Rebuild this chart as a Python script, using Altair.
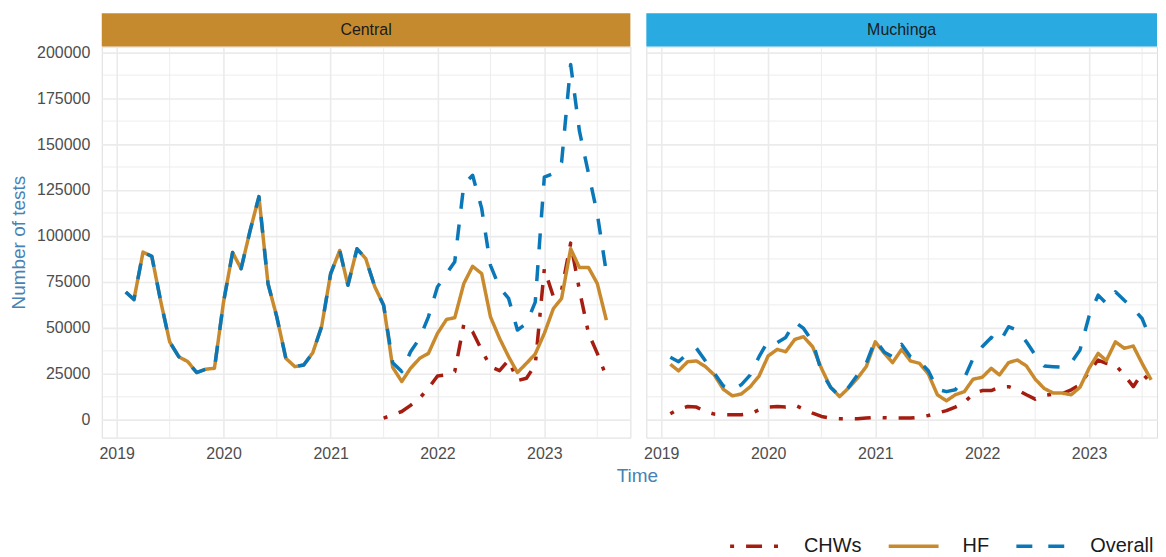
import altair as alt
import pandas as pd

# ---------------- data ----------------
start_month = "2019-02-01"
n_months = 55
months = pd.date_range(start_month, periods=n_months, freq="MS").strftime("%Y-%m-%dT00:00:00").tolist()

series_names = ["CHWs", "HF", "Overall"]

central_hf = [69.5, 65.4, 91.2, 88.9, 64, 42.4, 34.3, 31.6, 25.7, 27.5,
              28, 64, 91, 82.2, 103, 121.4, 74, 56, 33.4, 28.9,
              29.8, 36.5, 50.6, 79.5, 92.1, 73.2, 93, 87.6, 72.3, 62.3,
              28.5, 20.8, 28, 33.4, 36.1, 47, 54.6, 55.5, 74.1, 83.5,
              79.5, 56, 44.3, 34.3, 25.7, 30.7, 35.8, 47, 60.5, 66,
              93, 82.8, 82.8, 74.1, 54.2]
central_overall = [69.5, 65.4, 91.2, 88.9, 64, 42.4, 34.3, 31.6, 25.7, 27.5,
                   28, 64, 91, 82.2, 103, 121.4, 74, 56, 33.4, 28.9,
                   29.8, 36.5, 50.6, 79.5, 92.1, 73.2, 93, 87.6, 72.3, 62.3,
                   31, 26.2, 37, 44.3, 56, 72.3, 79.5, 86, 128, 133,
                   115, 84, 72, 66, 48.8, 52.4, 64, 132, 134, 140,
                   193.3, 157, 134, 112, 80]
central_chw_start = 29  # CHW reporting starts Jul 2021
central_chw = [0.9, 2.7, 4.5, 7.8, 11.7, 17.2, 23.8, 24.4, 26.2, 52,
               47.9, 37.9, 28.9, 26.7, 32.5, 21.3, 22.6, 29.8, 82, 67,
               70.5, 96.1, 70.5, 47, 36.1, 23.5]

muchinga_hf = [30.2, 26.6, 31.6, 32, 28.9, 24.4, 16.6, 13, 14, 18,
               23.8, 34.7, 38.3, 37, 43.7, 45.2, 39.7, 28, 17.7, 12.6,
               17.2, 22.6, 28.9, 42.4, 36.1, 31.1, 38.3, 32, 30.7, 24.9,
               13.6, 10.3, 13.6, 15.3, 22.1, 23.1, 28, 24.4, 31.1, 32.5,
               29.3, 22.1, 17, 14.5, 14.5, 13.6, 17.7, 28, 36.1, 32.2,
               42.4, 38.9, 40.1, 30.7, 21.7]
muchinga_overall = [34, 31.6, 36.1, 38.9, 32, 25.3, 18.4, 16.3, 19, 24.4,
                    34.3, 43, 42, 44.8, 53.3, 49.7, 42.4, 26.2, 17.7, 13,
                    17.5, 24.4, 30.7, 43.4, 36.7, 34.3, 41, 34.3, 31.6, 26.7,
                    16.6, 15.3, 16.3, 22.6, 33.4, 39.7, 44.8, 41.9, 50.6, 48.8,
                    42.4, 35.2, 29.3, 28.9, 28.6, 31, 38, 56.4, 67.8, 63.3,
                    69.6, 65, 60.5, 55.1, 43]
muchinga_chw = [3.3, 5.8, 7.2, 6.9, 4.5, 3.1, 2.7, 2.7, 2.7, 3.3,
                5.4, 6.9, 7.2, 6.9, 8, 5.8, 3.6, 1.8, 0.9, 0.6,
                0.6, 0.5, 0.9, 1.3, 1.1, 0.9, 0.9, 0.9, 1.4, 2.3,
                3.6, 5, 6.9, 9.4, 14.1, 15.9, 15.9, 17.7, 18, 16.3,
                13.6, 11.2, 13.2, 13.9, 14.1, 16.3, 19, 26.2, 32.5, 30.7,
                29.8, 24.4, 18, 25.3, 20]

y_ticks = [0, 25000, 50000, 75000, 100000, 125000, 150000, 175000, 200000]
y_minor = [12500, 37500, 62500, 87500, 112500, 137500, 162500, 187500]
x_minor = ["2019-07-01T00:00:00", "2020-07-01T00:00:00", "2021-07-01T00:00:00",
           "2022-07-01T00:00:00", "2023-07-01T00:00:00"]
year_ticks = [2019, 2020, 2021, 2022, 2023]

rows = []
def add(region, series, dates, vals):
    for d, v in zip(dates, vals):
        rows.append({"region": region, "series": series, "date": d, "value": v * 1000})

add("Central", "CHWs", months[central_chw_start:], central_chw)
add("Central", "HF", months, central_hf)
add("Central", "Overall", months, central_overall)
add("Muchinga", "CHWs", months, muchinga_chw)
add("Muchinga", "HF", months, muchinga_hf)
add("Muchinga", "Overall", months, muchinga_overall)
df = pd.DataFrame(rows)

# ---------------- styling ----------------
FONT = "Liberation Sans"
GRID = "#EBEBEB"
AXIS_BLUE = "#4682B4"
colors = ["#A51C10", "#C98A2E", "#0A78B8"]
dashes = [[4, 12, 16, 12], [1, 0], [16, 16]]
H = 392
W_C = 530
W_M = 512

legend = alt.Legend(
    title=None, orient="none", direction="horizontal",
    legendX=628, legendY=474,
    labelFontSize=20, labelColor="#1A1A1A", labelFont=FONT,
    symbolType="stroke", symbolSize=2500, symbolStrokeWidth=3.5,
    labelOffset=22, columnPadding=20,
)
color_scale = alt.Scale(domain=series_names, range=colors)
dash_scale = alt.Scale(domain=series_names, range=dashes)
y_scale = alt.Scale(domain=[-9700, 203000], nice=False, zero=False)


def panel(region, strip_color, width, x_end, show_y):
    x_scale = alt.Scale(domain=[alt.DateTime(year=2018, month=11, date=11), x_end], nice=False)
    x_axis = alt.Axis(values=[alt.DateTime(year=y, month=1, date=1) for y in year_ticks],
                      format="%Y", title=None, grid=True, gridColor=GRID, gridWidth=1.6,
                      ticks=False, tickSize=0, domain=False, labelPadding=8,
                      labelFontSize=16, labelColor="#4D4D4D", labelFont=FONT)
    if show_y:
        y_axis = alt.Axis(values=y_ticks, format="d", title="Number of tests",
                          titleColor=AXIS_BLUE, titleFontSize=19, titleFontWeight="normal",
                          titleFont=FONT, titlePadding=8, grid=True, gridColor=GRID, gridWidth=1.6,
                          ticks=False, tickSize=0, domain=False, labelPadding=12,
                          labelFontSize=16, labelColor="#4D4D4D", labelFont=FONT)
    else:
        y_axis = alt.Axis(values=y_ticks, labels=False, title=None, grid=True, gridColor=GRID,
                          gridWidth=1.6, ticks=False, tickSize=0, domain=False)

    sub = df[df.region == region]
    base = alt.Chart(sub)

    minor_x = alt.Chart(pd.DataFrame({"d": x_minor})).mark_rule(
        color=GRID, strokeWidth=0.9).encode(x=alt.X("d:T", scale=x_scale, axis=x_axis))
    minor_y = alt.Chart(pd.DataFrame({"v": y_minor})).mark_rule(
        color=GRID, strokeWidth=0.9).encode(y=alt.Y("v:Q", scale=y_scale, axis=y_axis))

    lines = []
    for s in series_names:
        lines.append(
            base.transform_filter(alt.datum.series == s).mark_line(
                strokeWidth=3.5, strokeCap="butt", strokeJoin="round"
            ).encode(
                x=alt.X("date:T", scale=x_scale, axis=x_axis),
                y=alt.Y("value:Q", scale=y_scale, axis=y_axis),
                color=alt.Color("series:N", scale=color_scale, legend=legend),
                strokeDash=alt.StrokeDash("series:N", scale=dash_scale, legend=legend),
            )
        )

    strip_df = pd.DataFrame({"r": [region]})
    strip = alt.Chart(strip_df).mark_rect(color=strip_color).encode(
        x=alt.value(0), x2=alt.value(width), y=alt.value(-33.5), y2=alt.value(0))
    strip_text = alt.Chart(strip_df).mark_text(
        fontSize=16, color="#1A1A1A", font=FONT, baseline="middle", align="center"
    ).encode(x=alt.value(width / 2), y=alt.value(-16.5), text="r:N")

    layers = [minor_x, minor_y] + lines + [strip, strip_text]
    if show_y:
        time_lbl = alt.Chart(pd.DataFrame({"t": ["Time"]})).mark_text(
            fontSize=19, color=AXIS_BLUE, font=FONT, baseline="middle", align="center"
        ).encode(x=alt.value(537), y=alt.value(431), text="t:N")
        layers.append(time_lbl)
    return alt.layer(*layers).properties(width=width, height=H)


c1 = panel("Central", "#C68A2E", W_C, alt.DateTime(year=2023, month=10, date=22), True)
c2 = panel("Muchinga", "#29ABE2", W_M, alt.DateTime(year=2023, month=8, date=21), False)

chart = alt.hconcat(c1, c2, spacing=16, bounds="flush").resolve_scale(
    x="independent", y="independent", color="shared", strokeDash="shared"
).properties(
    padding={"left": 1, "top": 4, "right": 0, "bottom": 0}
).configure_view(stroke=None).configure(font=FONT)

chart.save("out.html", embed_options={"renderer": "svg", "actions": False})
